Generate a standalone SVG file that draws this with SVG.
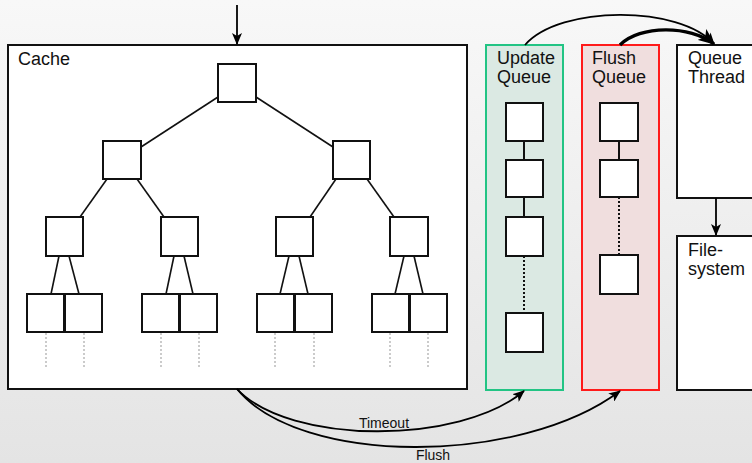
<svg xmlns="http://www.w3.org/2000/svg" width="752" height="463" viewBox="0 0 752 463">
<defs>
<linearGradient id="bg" x1="0" y1="0" x2="0" y2="1">
<stop offset="0" stop-color="#f8f8f8"/>
<stop offset="1" stop-color="#e4e4e4"/>
</linearGradient>
<marker id="ah" viewBox="0 0 12 10" refX="11" refY="5" markerWidth="12" markerHeight="10" markerUnits="userSpaceOnUse" orient="auto">
<path d="M0,0 L12,5 L0,10 L3,5 Z" fill="#000"/>
</marker>
<marker id="ahBig" viewBox="0 0 12 10" refX="11" refY="5" markerWidth="17" markerHeight="14" markerUnits="userSpaceOnUse" orient="auto">
<path d="M0,0 L12,5 L0,10 L3,5 Z" fill="#000"/>
</marker>
</defs>
<style>
.box{fill:#fff;stroke:#111;stroke-width:2}
.edge{stroke:#111;stroke-width:1.6;fill:none}
.qline{stroke:#111;stroke-width:2;fill:none}
.dots{stroke:#bbb;stroke-width:1.5;stroke-dasharray:2 2;fill:none}
.qdots{stroke:#111;stroke-width:2;stroke-dasharray:2 2;fill:none}
.lbl{font-family:"Liberation Sans",Arial,sans-serif;font-size:18px;fill:#111}
.small{font-family:"Liberation Sans",Arial,sans-serif;font-size:14px;fill:#111}
.arrow{stroke:#000;stroke-width:1.8;fill:none}
.thick{stroke:#000;stroke-width:3.4;fill:none}
</style>
<rect x="0" y="0" width="752" height="463" fill="url(#bg)"/>

<g id="cache">
<rect x="8" y="45" width="459" height="344" fill="#fff" stroke="#111" stroke-width="2"/>
<text class="lbl" x="18" y="65">Cache</text>
<g id="tree-edges">
<line class="edge" x1="218" y1="97" x2="141" y2="147"/>
<line class="edge" x1="256" y1="97" x2="333" y2="147"/>
<line class="edge" x1="107" y1="179" x2="80" y2="217"/>
<line class="edge" x1="137" y1="179" x2="164" y2="217"/>
<line class="edge" x1="336" y1="179" x2="310" y2="217"/>
<line class="edge" x1="367" y1="179" x2="394" y2="217"/>
<line class="edge" x1="59" y1="256" x2="51" y2="294"/>
<line class="edge" x1="69" y1="256" x2="79" y2="294"/>
<line class="edge" x1="174" y1="256" x2="166" y2="294"/>
<line class="edge" x1="184" y1="256" x2="193" y2="294"/>
<line class="edge" x1="289" y1="256" x2="280" y2="294"/>
<line class="edge" x1="299" y1="256" x2="308" y2="294"/>
<line class="edge" x1="404" y1="256" x2="395" y2="294"/>
<line class="edge" x1="414" y1="256" x2="423" y2="294"/>
</g>
<g id="tree-dots">
<line class="dots" x1="46" y1="333" x2="46" y2="368"/>
<line class="dots" x1="84" y1="333" x2="84" y2="368"/>
<line class="dots" x1="161" y1="333" x2="161" y2="368"/>
<line class="dots" x1="199" y1="333" x2="199" y2="368"/>
<line class="dots" x1="275" y1="333" x2="275" y2="368"/>
<line class="dots" x1="314" y1="333" x2="314" y2="368"/>
<line class="dots" x1="390" y1="333" x2="390" y2="368"/>
<line class="dots" x1="428" y1="333" x2="428" y2="368"/>
</g>
<g id="tree-nodes">
<rect class="box" x="218" y="64" width="38" height="38"/>
<rect class="box" x="103" y="141" width="38" height="38"/>
<rect class="box" x="333" y="141" width="37" height="38"/>
<rect class="box" x="46" y="217" width="37" height="39"/>
<rect class="box" x="161" y="217" width="37" height="39"/>
<rect class="box" x="276" y="217" width="37" height="39"/>
<rect class="box" x="390" y="217" width="38" height="39"/>
<rect class="box" x="27" y="294" width="37" height="38"/>
<rect class="box" x="65" y="294" width="37" height="38"/>
<rect class="box" x="142" y="294" width="37" height="38"/>
<rect class="box" x="180" y="294" width="37" height="38"/>
<rect class="box" x="257" y="294" width="37" height="38"/>
<rect class="box" x="295" y="294" width="37" height="38"/>
<rect class="box" x="372" y="294" width="37" height="38"/>
<rect class="box" x="410" y="294" width="37" height="38"/>
</g>
</g>

<g id="update-queue">
<rect x="486" y="45" width="77" height="345" fill="#dbe9e3" stroke="#22c484" stroke-width="2"/>
<text class="lbl" x="497" y="64">Update</text>
<text class="lbl" x="497" y="83">Queue</text>
<line class="qline" x1="524" y1="141" x2="524" y2="160"/>
<line class="qline" x1="524" y1="197" x2="524" y2="217"/>
<line class="qdots" x1="524" y1="256" x2="524" y2="313"/>
<rect class="box" x="506" y="103" width="37" height="38"/>
<rect class="box" x="506" y="160" width="37" height="37"/>
<rect class="box" x="506" y="217" width="37" height="39"/>
<rect class="box" x="506" y="313" width="37" height="39"/>
</g>

<g id="flush-queue">
<rect x="582" y="45" width="77" height="345" fill="#f0dede" stroke="#ff1a1a" stroke-width="2"/>
<text class="lbl" x="592" y="64">Flush</text>
<text class="lbl" x="592" y="83">Queue</text>
<line class="qline" x1="619" y1="141" x2="619" y2="160"/>
<line class="qdots" x1="619" y1="197" x2="619" y2="255"/>
<rect class="box" x="600" y="103" width="38" height="38"/>
<rect class="box" x="600" y="160" width="38" height="37"/>
<rect class="box" x="600" y="255" width="38" height="39"/>
</g>

<g id="queue-thread">
<rect x="677" y="45" width="100" height="153" fill="#fff" stroke="#111" stroke-width="2"/>
<text class="lbl" x="688" y="64">Queue</text>
<text class="lbl" x="688" y="83">Thread</text>
</g>

<g id="filesystem">
<rect x="677" y="236" width="100" height="154" fill="#fff" stroke="#111" stroke-width="2"/>
<text class="lbl" x="688" y="256">File-</text>
<text class="lbl" x="688" y="275">system</text>
</g>

<g id="connectors">
<line class="arrow" x1="237" y1="5" x2="237" y2="44" marker-end="url(#ah)"/>
<line class="arrow" x1="716" y1="198" x2="716" y2="235" marker-end="url(#ah)"/>
<path class="arrow" d="M525,45 C560,5 680,5 714,44" marker-end="url(#ah)"/>
<path class="thick" d="M620,45 C640,25 690,25 714,44" marker-end="url(#ahBig)"/>
<path class="arrow" d="M237,389 C290,445 460,445 524,391" marker-end="url(#ah)"/>
<path class="arrow" d="M237,389 C300,466 520,466 620,391" marker-end="url(#ah)"/>
<text class="small" x="384" y="428" text-anchor="middle">Timeout</text>
<text class="small" x="433" y="460" text-anchor="middle">Flush</text>
</g>
</svg>
